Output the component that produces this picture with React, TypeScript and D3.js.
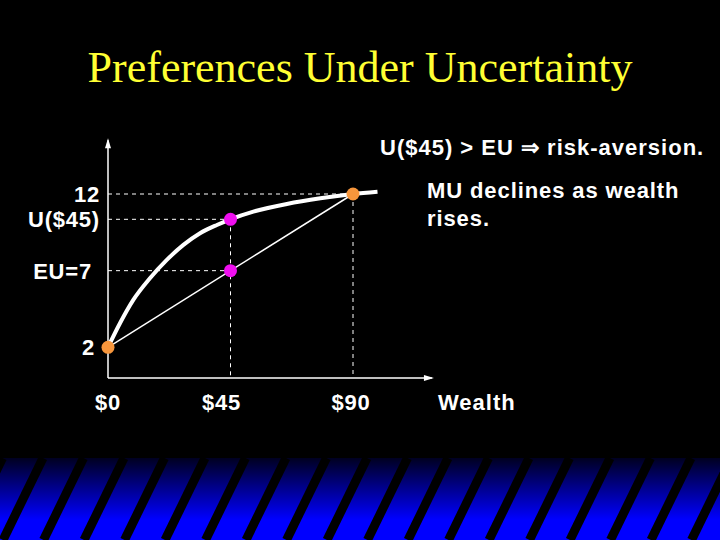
import React from "react";
import * as d3 from "d3";

const curveWealth = [0, 4.4, 9.3, 15.4, 21.6, 27.7, 33.8, 40, 45, 53.4, 65.7, 78, 90, 99];
const curveUtility = [2, 3.57, 5.09, 6.5, 7.7, 8.68, 9.44, 9.98, 10.35, 10.85, 11.35, 11.72, 12, 12.15];
const gambleWealth = [0, 90];
const gambleUtility = [2, 12];
const certainWealth = 45;
const certainUtility = 10.35;
const expectedUtility = 7;
const xTickValues = [0, 45, 90];
const xTickLabels = ["$0", "$45", "$90"];
const yLabelValues = [12, 10.35, 7, 2];
const yLabelTexts = ["12", "U($45)", "EU=7", "2"];

const W = 720, H = 540;
const x = d3.scaleLinear().domain([0, 90]).range([108, 353]);
const y = d3.scaleLinear().domain([0, 12]).range([378, 194]);

const FONT = "'Liberation Sans', Arial, sans-serif";

export default function App() {
  const line = d3
    .line<number>()
    .x((d) => x(curveWealth[d]))
    .y((d) => y(curveUtility[d]))
    .curve(d3.curveMonotoneX);
  const curvePath = line(d3.range(curveWealth.length)) || "";
  const x0 = x(0), yBase = y(0);
  const xEnd = x(119), yTop = y(15.5);
  const stripes = d3.range(-2, 20).map((i) => i * 40.5);
  const bandTop = 458;

  const dotR = 6.5;
  const orange = "#f7963c";
  const magenta = "#f00ff0";
  const yLabelRight = [100, 100, 92, 95];
  const xLabelDx = [0, -9, -2];

  return (
    <svg width={W} height={H} style={{ position: "fixed", left: 0, top: 0, background: "#000" }}>
      <defs>
        <linearGradient id="band" x1="0" y1="0" x2="0" y2="1">
          <stop offset="0" stopColor="#000020" />
          <stop offset="0.75" stopColor="#0000ff" />
          <stop offset="1" stopColor="#0000ff" />
        </linearGradient>
        <clipPath id="bandClip">
          <rect x={0} y={bandTop} width={W} height={H - bandTop} />
        </clipPath>
      </defs>
      <rect width={W} height={H} fill="#000" />
      <rect x={0} y={bandTop} width={W} height={H - bandTop} fill="url(#band)" />
      <g clipPath="url(#bandClip)">
        {stripes.map((sx, i) => (
          <line key={i} x1={sx + 43} y1={bandTop} x2={sx + 3} y2={H} stroke="#000" strokeWidth={9} />
        ))}
      </g>

      <text x={360} y={82} textAnchor="middle" fill="#ffff33" fontFamily="'Liberation Serif', 'Times New Roman', serif" fontSize={44}>
        Preferences Under Uncertainty
      </text>

      {/* dashed guides */}
      <g stroke="#fff" strokeWidth={1} strokeDasharray="4,4" fill="none">
        <line x1={x0} x2={x(90)} y1={y(12)} y2={y(12)} />
        <line x1={x0} x2={x(certainWealth)} y1={y(certainUtility)} y2={y(certainUtility)} />
        <line x1={x0} x2={x(certainWealth)} y1={y(expectedUtility)} y2={y(expectedUtility)} />
        <line x1={x(certainWealth)} x2={x(certainWealth)} y1={y(certainUtility)} y2={yBase} />
        <line x1={x(90)} x2={x(90)} y1={y(12)} y2={yBase} />
      </g>

      {/* axes */}
      <g stroke="#fff" strokeWidth={1.5} fill="none">
        <line x1={x0} x2={x0} y1={yBase} y2={yTop} />
        <line x1={x0} x2={xEnd} y1={yBase} y2={yBase} />
      </g>
      <path d={`M${x0},${yTop - 2} L${x0 - 3},${yTop + 8} L${x0 + 3},${yTop + 8} Z`} fill="#fff" />
      <path d={`M${xEnd + 2},${yBase} L${xEnd - 8},${yBase - 3} L${xEnd - 8},${yBase + 3} Z`} fill="#fff" />

      {/* chord */}
      <line
        x1={x(gambleWealth[0])}
        y1={y(gambleUtility[0])}
        x2={x(gambleWealth[1])}
        y2={y(gambleUtility[1])}
        stroke="#fff"
        strokeWidth={1.5}
      />
      {/* utility curve */}
      <path d={curvePath} fill="none" stroke="#fff" strokeWidth={4} strokeLinecap="butt" />

      <circle cx={x(gambleWealth[0])} cy={y(gambleUtility[0])} r={dotR} fill={orange} />
      <circle cx={x(gambleWealth[1])} cy={y(gambleUtility[1])} r={dotR} fill={orange} />
      <circle cx={x(certainWealth)} cy={y(certainUtility)} r={dotR} fill={magenta} />
      <circle cx={x(certainWealth)} cy={y(expectedUtility)} r={dotR} fill={magenta} />

      <g fill="#fff" fontFamily={FONT} fontWeight="bold" fontSize={22}>
        {yLabelValues.map((v, i) => (
          <text key={i} x={yLabelRight[i]} y={y(v) + 8} textAnchor="end" letterSpacing={0.8}>
            {yLabelTexts[i]}
          </text>
        ))}
        {xTickValues.map((v, i) => (
          <text key={i} x={x(v) + xLabelDx[i]} y={410} textAnchor="middle" letterSpacing={0.8}>
            {xTickLabels[i]}
          </text>
        ))}
        <text x={438} y={410} letterSpacing={1}>Wealth</text>
        <text x={380} y={155} letterSpacing={1}>U($45) &gt; EU ⇒ risk-aversion.</text>
        <text x={427} y={198} letterSpacing={0.9}>MU declines as wealth</text>
        <text x={427} y={226} letterSpacing={0.9}>rises.</text>
      </g>
    </svg>
  );
}
